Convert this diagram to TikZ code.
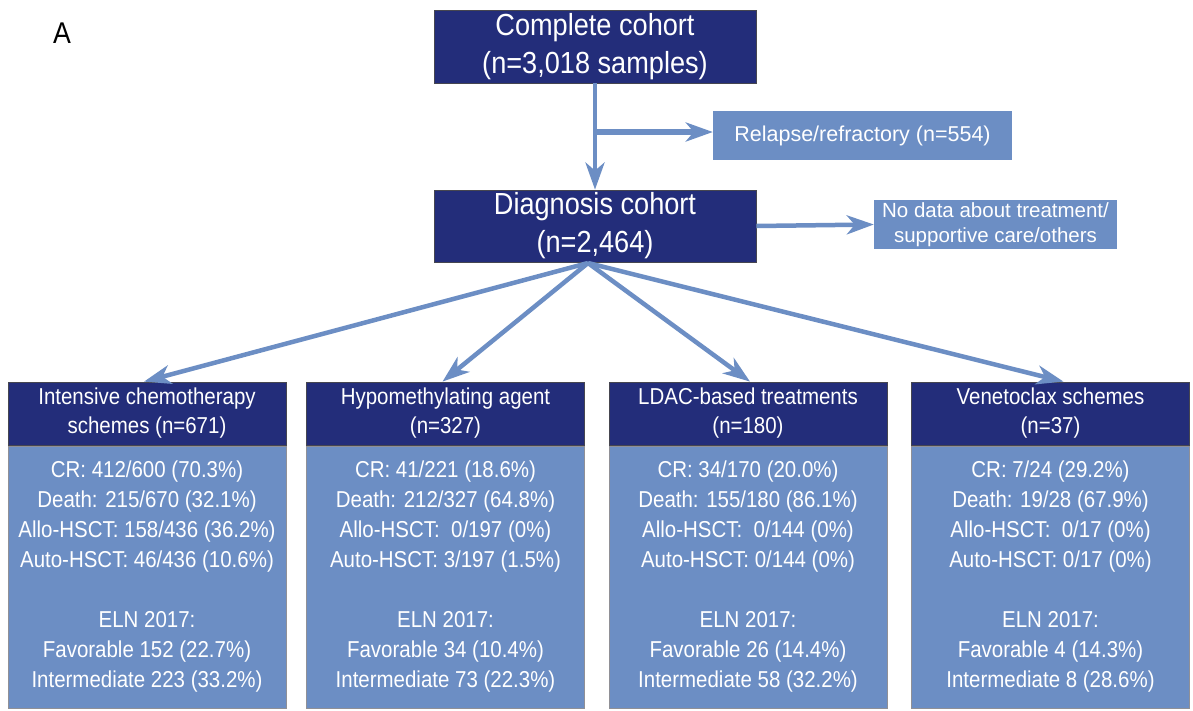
\documentclass[tikz,border=0pt]{standalone}
\usepackage{fontspec}
\setmainfont{Liberation Sans}
\newfontfamily\narrow[FakeStretch=0.89]{Liberation Sans}
\usetikzlibrary{arrows.meta}
\definecolor{navy}{RGB}{35,45,122}
\definecolor{lblue}{RGB}{108,142,196}
\definecolor{edgegray}{RGB}{70,70,80}
\begin{document}
\begin{tikzpicture}[x=1pt,y=-1pt,
  dark/.style={draw=edgegray, line width=0.8pt, fill=navy, text=white, align=center, inner sep=0pt},
  head/.style={dark, minimum width=278pt, minimum height=63pt, font=\narrow\fontsize{23}{29}\selectfont},
  body/.style={draw=edgegray!60, line width=0.8pt, fill=lblue, text=white, align=center, inner sep=0pt,
    minimum width=278pt, minimum height=262pt, font=\narrow\fontsize{23}{30}\selectfont},
  big/.style={dark, minimum width=322pt, minimum height=73pt, font=\narrow\fontsize{30.5}{38}\selectfont},
  side/.style={fill=lblue, text=white, align=center, inner sep=0pt},
  arr/.style={draw=lblue, line width=4.5pt, -{Stealth[length=27pt,width=19pt,inset=8pt]}},
  lbl/.style={font=\narrow\fontsize{30}{34}\selectfont, text=black, inner sep=0pt}
  ]
\fill[white] (0,0) rectangle (1193,710);
\useasboundingbox (0,0) rectangle (1193,710);

\node[lbl] (lab) at (62,33) {A};

\node[big] (top) at (595,46.5) {Complete cohort\\(n=3,018 samples)};
\node[big, minimum height=72pt] (diag) at (595,226) {Diagnosis cohort\\(n=2,464)};
\node[side, minimum width=299pt, minimum height=49pt, font=\fontsize{21.5}{26}\selectfont] (rel) at (862.5,135.5) {Relapse/refractory (n=554)};
\node[side, minimum width=243pt, minimum height=49pt, font=\fontsize{20.5}{25}\selectfont] (nod) at (995.5,224.5) {No data about treatment/\\supportive care/others};

\node[head] (h1) at (147,413.5) {Intensive chemotherapy\\schemes (n=671)};
\node[head] (h2) at (445.5,413.5) {Hypomethylating agent\\(n=327)};
\node[head] (h3) at (748,413.5) {LDAC-based treatments\\(n=180)};
\node[head] (h4) at (1050.5,413.5) {Venetoclax schemes\\(n=37)};

\node[body] (b1) at (147,577) {CR: 412/600 (70.3\%)\\Death: 215/670 (32.1\%)\\Allo-HSCT: 158/436 (36.2\%)\\Auto-HSCT: 46/436 (10.6\%)\\\mbox{}\\ELN 2017:\\Favorable 152 (22.7\%)\\Intermediate 223 (33.2\%)};
\node[body] (b2) at (445.5,577) {CR: 41/221 (18.6\%)\\Death: 212/327 (64.8\%)\\Allo-HSCT:\ \ 0/197 (0\%)\\Auto-HSCT: 3/197 (1.5\%)\\\mbox{}\\ELN 2017:\\Favorable 34 (10.4\%)\\Intermediate 73 (22.3\%)};
\node[body] (b3) at (748,577) {CR: 34/170 (20.0\%)\\Death: 155/180 (86.1\%)\\Allo-HSCT:\ \ 0/144 (0\%)\\Auto-HSCT: 0/144 (0\%)\\\mbox{}\\ELN 2017:\\Favorable 26 (14.4\%)\\Intermediate 58 (32.2\%)};
\node[body] (b4) at (1050.5,577) {CR: 7/24 (29.2\%)\\Death: 19/28 (67.9\%)\\Allo-HSCT:\ \ 0/17 (0\%)\\Auto-HSCT: 0/17 (0\%)\\\mbox{}\\ELN 2017:\\Favorable 4 (14.3\%)\\Intermediate 8 (28.6\%)};

\coordinate (br) at (595,132);
\coordinate (fan) at (588,263);

\draw[arr] (top.south) -- (diag.north);
\draw[arr, line width=5.5pt] (br) -- (br -| rel.west);
\draw[arr] (diag.east) -- (nod.west);
\draw[arr] (fan) -- ([xshift=-3pt]h1.north);
\draw[arr] (fan) -- ([xshift=-3pt]h2.north);
\draw[arr] (fan) -- ([xshift=2pt]h3.north);
\draw[arr] (fan) -- ([xshift=13pt]h4.north);
\end{tikzpicture}
\end{document}
